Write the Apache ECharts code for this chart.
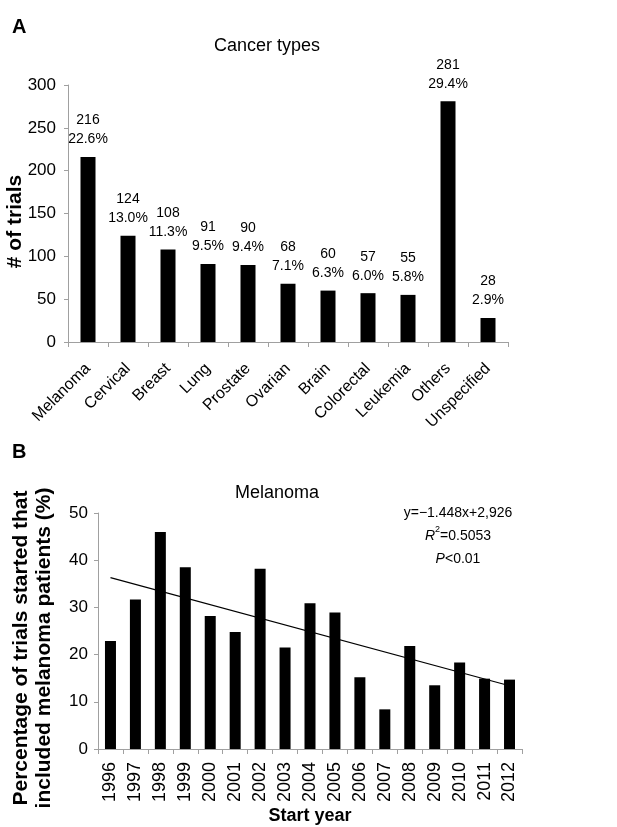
<!DOCTYPE html>
<html>
<head>
<meta charset="utf-8">
<script src="https://cdn.jsdelivr.net/npm/echarts@6/dist/echarts.min.js"></script>
<style>
html,body{margin:0;padding:0;background:#fff;}
#chart{width:617px;height:827px;}
</style>
</head>
<body>
<div id="chart"></div>
<script>
var cancerTypes = ['Melanoma','Cervical','Breast','Lung','Prostate','Ovarian','Brain','Colorectal','Leukemia','Others','Unspecified'];
var trialCounts = [216,124,108,91,90,68,60,57,55,281,28];
var trialPcts = ['22.6%','13.0%','11.3%','9.5%','9.4%','7.1%','6.3%','6.0%','5.8%','29.4%','2.9%'];
var yTicksA = [0,50,100,150,200,250,300];

var years = ['1996','1997','1998','1999','2000','2001','2002','2003','2004','2005','2006','2007','2008','2009','2010','2011','2012'];
var melanomaPct = [22.9,31.7,46.0,38.5,28.2,24.8,38.2,21.5,30.9,28.9,15.2,8.4,21.8,13.5,18.3,14.9,14.7];
var trendEnds = [36.3, 13.4];
var yTicksB = [0,10,20,30,40,50];

var trendData = years.map(function(y,i){
  if (i === 0) return trendEnds[0];
  if (i === years.length-1) return trendEnds[1];
  return null;
});

var FONT = 'Liberation Sans, Arial, sans-serif';
var AX = '#a0a0a0';

var chart = echarts.init(document.getElementById('chart'), null, {renderer:'canvas'});
chart.setOption({
  backgroundColor:'#fff',
  animation:false,
  textStyle:{fontFamily:FONT, color:'#000'},
  title:[
    {text:'Cancer types', left:262, top:32, textAlign:'center', textStyle:{fontFamily:FONT, fontSize:18, fontWeight:'normal', color:'#000'}},
    {text:'Melanoma', left:272, top:479, textAlign:'center', textStyle:{fontFamily:FONT, fontSize:18, fontWeight:'normal', color:'#000'}}
  ],
  graphic:[
    {type:'text', x:12, y:17, style:{text:'A', font:'bold 20px '+FONT, fill:'#000'}},
    {type:'text', x:12, y:442, style:{text:'B', font:'bold 20px '+FONT, fill:'#000'}},
    {type:'text', x:458, y:502, style:{
      text:'{n|y=\u22121.448x+2,926}\n{i|R}{s|2}{n|=0.5053}\n{i|P}{n|<0.01}',
      align:'center',
      verticalAlign:'top',
      fill:'#000',
      rich:{
        n:{fontFamily:FONT, fontSize:14, lineHeight:23, fill:'#000'},
        i:{fontFamily:FONT, fontSize:14, fontStyle:'italic', lineHeight:23, fill:'#000'},
        s:{fontFamily:FONT, fontSize:9, lineHeight:23, verticalAlign:'top', fill:'#000', padding:[0,0,8,0]}
      }
    }},
    {type:'text', x:310, y:807, style:{text:'Start year', font:'bold 18px '+FONT, fill:'#000', align:'center', verticalAlign:'top'}}
  ],
  grid:[
    {left:68, width:440, top:85, height:257, outerBoundsMode:'none', containLabel:false},
    {left:98, width:424, top:513, height:236, outerBoundsMode:'none', containLabel:false}
  ],
  xAxis:[
    {type:'category', gridIndex:0, data:cancerTypes,
     axisLine:{lineStyle:{color:AX, width:1}},
     axisTick:{show:true, length:5, lineStyle:{color:AX}},
     axisLabel:{rotate:45, fontSize:16, color:'#000', fontFamily:FONT, margin:24, interval:0}},
    {type:'category', gridIndex:1, data:years,
     axisLine:{lineStyle:{color:AX, width:1}},
     axisTick:{show:true, length:5, lineStyle:{color:AX}},
     axisLabel:{rotate:90, fontSize:18, color:'#000', fontFamily:FONT, margin:13, interval:0}}
  ],
  yAxis:[
    {type:'value', gridIndex:0, min:yTicksA[0], max:yTicksA[yTicksA.length-1], interval:50,
     name:'# of trials', nameLocation:'middle', nameGap:42, nameMoveOverlap:false,
     nameTextStyle:{fontFamily:FONT, fontSize:21, fontWeight:'bold', color:'#000', padding:[0,16,0,0]},
     axisLine:{show:true, lineStyle:{color:AX, width:1}},
     axisTick:{show:true, length:4, lineStyle:{color:AX}},
     splitLine:{show:false},
     axisLabel:{fontSize:17, color:'#000', fontFamily:FONT, margin:12}},
    {type:'value', gridIndex:1, min:yTicksB[0], max:yTicksB[yTicksB.length-1], interval:10,
     name:'Percentage of trials started that\nincluded melanoma patients (%)', nameLocation:'middle', nameGap:42, nameMoveOverlap:false,
     nameTextStyle:{fontFamily:FONT, fontSize:21, fontWeight:'bold', color:'#000', lineHeight:23, padding:[0,34,0,0]},
     axisLine:{show:true, lineStyle:{color:AX, width:1}},
     axisTick:{show:true, length:4, lineStyle:{color:AX}},
     splitLine:{show:false},
     axisLabel:{fontSize:17, color:'#000', fontFamily:FONT, margin:10}}
  ],
  series:[
    {type:'bar', xAxisIndex:0, yAxisIndex:0, data:trialCounts, barWidth:15,
     itemStyle:{color:'#000'},
     label:{show:true, position:'top', distance:8, fontFamily:FONT, fontSize:14, lineHeight:19, color:'#000',
       formatter:function(p){return p.value+'\n'+trialPcts[p.dataIndex];}}},
    {type:'bar', xAxisIndex:1, yAxisIndex:1, data:melanomaPct, barWidth:11,
     itemStyle:{color:'#000'}},
    {type:'line', xAxisIndex:1, yAxisIndex:1, data:trendData, connectNulls:true,
     symbol:'none', lineStyle:{color:'#000', width:1.2}, z:5}
  ]
});
</script>
</body>
</html>
